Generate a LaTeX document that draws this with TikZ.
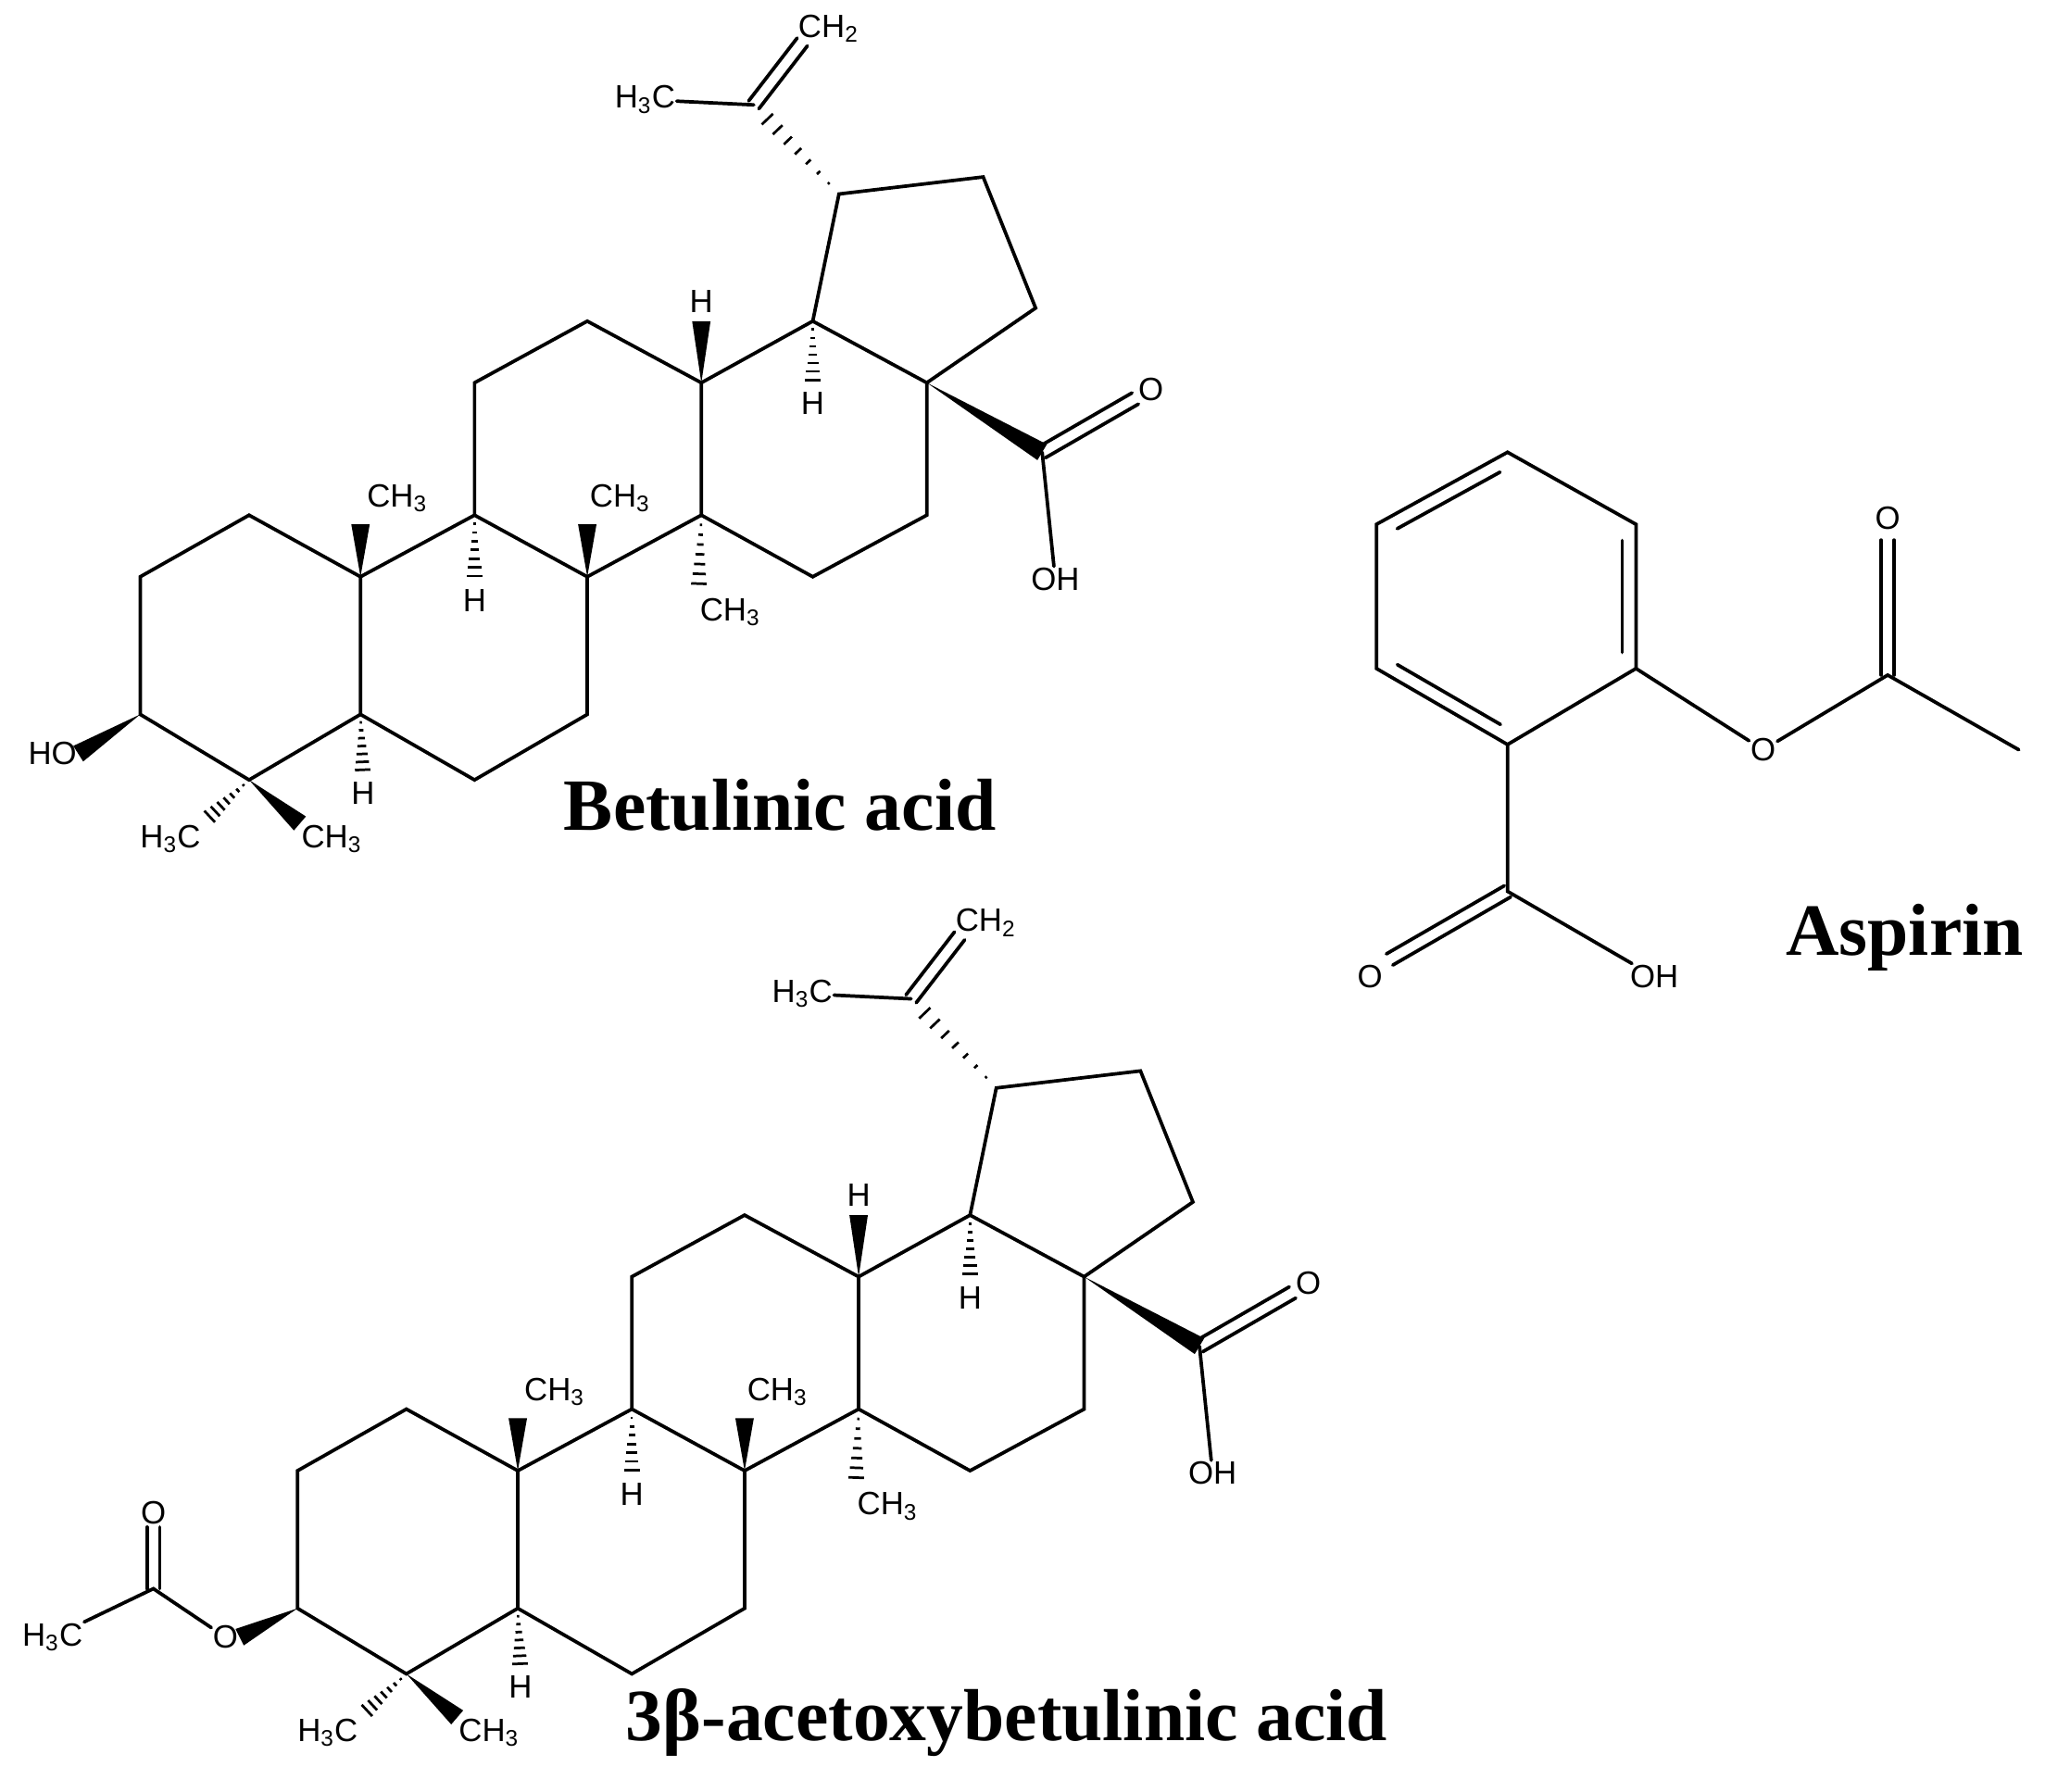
\documentclass[tikz,border=0pt]{standalone}
\usepackage{fontspec}
\setmainfont{Liberation Serif}
\setsansfont{Liberation Sans}
\usetikzlibrary{calc}
\tikzset{bond/.style={line width=1.5pt,line cap=round},
 atom/.style={font=\sffamily\fontsize{14}{14}\selectfont,inner sep=0.5pt},
 title/.style={font=\bfseries\fontsize{32}{32}\selectfont}}
\newcommand\solidw[3][4pt]{\fill ($(#3)!#1!90:(#2)$) -- (#2) -- ($(#3)!#1!-90:(#2)$) -- cycle;}
\newcommand\hashw[2]{\foreach \t in {0.12,0.24,...,0.96}{\path ($(#1)!\t!(#2)$) coordinate (hm);
  \draw[line width=1.1pt] ($(hm)!{\t*4pt}!90:(#2)$) -- ($(hm)!{\t*4pt}!-90:(#2)$);}}
\newcommand\dbl[2]{\draw[bond] ($(#1)!2.8pt!90:(#2)$) -- ($(#2)!2.8pt!-90:(#1)$);
  \draw[bond] ($(#1)!2.8pt!-90:(#2)$) -- ($(#2)!2.8pt!90:(#1)$);}
\newcommand\innerb[2]{\draw[bond,shorten <=7pt,shorten >=7pt] ($(#1)!6pt!-90:(#2)$) -- ($(#2)!6pt!90:(#1)$);}
\newcommand\CHt{CH\textsubscript{3}}
\newcommand\HtC{H\textsubscript{3}C}
\newcommand\skel[1]{%
 \coordinate (C1) at (190,393); \coordinate (C2) at (107,440); \coordinate (C3) at (107,545);
 \coordinate (C4) at (190,595); \coordinate (C5) at (275,545); \coordinate (C10) at (275,440);
 \coordinate (C9) at (362,393); \coordinate (C8) at (448,440); \coordinate (C7) at (448,545);
 \coordinate (C6) at (362,595); \coordinate (C11) at (362,292); \coordinate (C12) at (448,245);
 \coordinate (C13) at (535,292); \coordinate (C14) at (535,393); \coordinate (C18) at (620,245);
 \coordinate (C17) at (707,292); \coordinate (C16) at (707,393); \coordinate (C15) at (620,440);
 \coordinate (C19) at (640,148); \coordinate (C21) at (750,135); \coordinate (C22) at (790,235);
 \coordinate (C20) at (575,80); \coordinate (C28) at (795,345);
 \draw[bond] (C1)--(C2)--(C3)--(C4)--(C5)--(C10)--cycle;
 \draw[bond] (C10)--(C9)--(C8)--(C7)--(C6)--(C5);
 \draw[bond] (C9)--(C11)--(C12)--(C13)--(C14)--(C8);
 \draw[bond] (C13)--(C18)--(C17)--(C16)--(C15)--(C14);
 \draw[bond] (C18)--(C19)--(C21)--(C22)--(C17);
 \node[atom] (CH2) at (632,22) {CH\textsubscript{2}};
 \node[atom] (H3Ca) at (492,76) {\HtC};
 \coordinate (C20e) at (612,32);
 \draw[bond] (C20)--(H3Ca);
 \dbl{C20}{C20e}
 \hashw{C19}{C20}
 \solidw{C17}{C28}
 \node[atom] (Ok) at (878,297) {O};
 \node[atom] (OHa) at (805,442) {OH};
 \coordinate (Oke) at (866,304);
 \dbl{C28}{Oke}
 \draw[bond] (C28)--(OHa);
 \node[atom] (Me10) at (303,380) {\CHt};
 \node[atom] (Me8) at (473,380) {\CHt};
 \node[atom] (H9) at (362,458) {H};
 \node[atom] (Me14) at (557,467) {\CHt};
 \node[atom] (H13) at (535,230) {H};
 \node[atom] (H18) at (620,308) {H};
 \node[atom] (H5) at (277,605) {H};
 \node[atom] (Me4a) at (130,640) {\HtC};
 \node[atom] (Me4b) at (253,640) {\CHt};
 \coordinate (Me10e) at (275,400); \coordinate (Me8e) at (448,400);
 \solidw{C10}{Me10e} \solidw{C8}{Me8e}
 \coordinate (H13e) at (535,245); \solidw{C13}{H13e}
 \hashw{C9}{H9.north} \hashw{C14}{Me14.north west}
 \hashw{C18}{H18.north} \hashw{C5}{H5.north}
 \hashw{C4}{Me4a.north east} \solidw{C4}{Me4b.north west}
 #1}
\begin{document}
\begin{tikzpicture}[x=0.02cm,y=-0.02cm]
\useasboundingbox (0,0) rectangle (1560,1367);
\begin{scope}[name prefix=b-]
 \skel{\node[atom] (HO) at (40,575) {HO}; \solidw{C3}{HO.east}}
\end{scope}
\begin{scope}[name prefix=a-, shift={(120,682)}]
 \skel{\node[atom] (Oe) at (52,567) {O};
  \solidw{C3}{Oe.east}
  \coordinate (Cac) at (-3,530); \coordinate (Oce) at (-3,483);
  \node[atom] (Oc) at (-3,472) {O};
  \node[atom] (Mac) at (-80,567) {\HtC};
  \draw[bond] (Oe)--(Cac)--(Mac);
  \dbl{Cac}{Oce}}
\end{scope}
\node[title] (t1) at (595,614) {Betulinic acid};
\node[title] (t2) at (768,1314) {3β-acetoxybetulinic acid};
\node[title] (t3) at (1453,715) {Aspirin};
% aspirin
\coordinate (A1) at (1150,345); \coordinate (A2) at (1248,400); \coordinate (A3) at (1248,510);
\coordinate (A4) at (1150,568); \coordinate (A5) at (1050,510); \coordinate (A6) at (1050,400);
\draw[bond] (A1)--(A2)--(A3)--(A4)--(A5)--(A6)--cycle;
\innerb{A6}{A1} \innerb{A2}{A3} \innerb{A4}{A5}
\node[atom] (Oes) at (1345,572) {O};
\coordinate (Cac) at (1440,515);
\node[atom] (Oac) at (1440,395) {O};
\coordinate (Oace) at (1440,412);
\coordinate (Mac) at (1540,572);
\draw[bond] (A3)--(Oes)--(Cac)--(Mac);
\dbl{Cac}{Oace}
\coordinate (Cc) at (1150,680);
\node[atom] (Occ) at (1045,745) {O};
\coordinate (Occe) at (1060,732);
\node[atom] (OHc) at (1262,745) {OH};
\draw[bond] (A4)--(Cc)--(OHc);
\dbl{Cc}{Occe}
\end{tikzpicture}
\end{document}
